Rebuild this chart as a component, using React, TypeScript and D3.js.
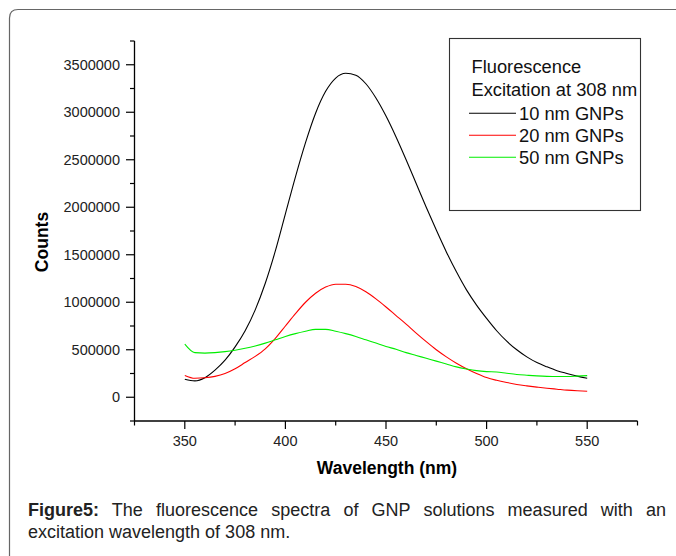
import React, { useLayoutEffect, useRef } from "react";
import * as d3 from "d3";

const wavelengths = [350, 355, 360, 365, 370, 375, 380, 385, 390, 395, 400, 405, 410, 415, 420, 425, 430, 435, 440, 445, 450, 455, 460, 465, 470, 475, 480, 485, 490, 495, 500, 505, 510, 515, 520, 525, 530, 535, 540, 545, 550];

const gnp10 = [190000, 172000, 205000, 285000, 390000, 530000, 700000, 920000, 1200000, 1540000, 1930000, 2320000, 2680000, 2990000, 3220000, 3360000, 3410000, 3390000, 3300000, 3150000, 2960000, 2740000, 2500000, 2250000, 2000000, 1760000, 1530000, 1320000, 1130000, 970000, 830000, 700000, 590000, 500000, 425000, 365000, 320000, 280000, 250000, 222000, 200000];

const gnp20 = [230000, 200000, 205000, 220000, 250000, 300000, 365000, 430000, 510000, 620000, 750000, 880000, 1000000, 1095000, 1160000, 1190000, 1190000, 1165000, 1110000, 1035000, 950000, 860000, 770000, 675000, 585000, 500000, 425000, 358000, 300000, 250000, 207000, 178000, 155000, 135000, 120000, 107000, 95000, 85000, 75000, 68000, 63000];

const gnp50 = [560000, 470000, 465000, 470000, 480000, 495000, 515000, 540000, 570000, 605000, 640000, 670000, 695000, 715000, 715000, 695000, 670000, 640000, 605000, 570000, 535000, 505000, 470000, 440000, 410000, 380000, 350000, 320000, 298000, 280000, 270000, 265000, 252000, 240000, 232000, 225000, 220000, 218000, 218000, 222000, 228000];

const seriesNames = ["10 nm GNPs", "20 nm GNPs", "50 nm GNPs"];
const seriesColors = ["#000000", "#ff0000", "#00ee00"];

const xMajor = [350, 400, 450, 500, 550];
const xMinor = [325, 375, 425, 475, 525, 575];
const yMajor = [0, 500000, 1000000, 1500000, 2000000, 2500000, 3000000, 3500000];
const yMinor = [-250000, 250000, 750000, 1250000, 1750000, 2250000, 2750000, 3250000, 3750000];

const legendTitle = ["Fluorescence", "Excitation at 308 nm"];
const captionBold = "Figure5:";
const captionRest = " The fluorescence spectra of GNP solutions measured with an";
const captionLine2 = "excitation wavelength of 308 nm.";

const FONT = "'Liberation Sans', Arial, Helvetica, sans-serif";

export default function App() {
  const x = d3.scaleLinear().domain([325, 575]).range([134.5, 637.5]);
  const y = d3.scaleLinear().domain([-250000, 3750000]).range([421, 41]);
  const line = d3
    .line<number>()
    .x((_, i) => x(wavelengths[i]))
    .y((d) => y(d))
    .curve(d3.curveMonotoneX);
  const series = [gnp10, gnp20, gnp50];

  const capRef = useRef<SVGTextElement>(null);
  useLayoutEffect(() => {
    const el = capRef.current;
    if (!el) return;
    el.setAttribute("word-spacing", "0");
    const natural = el.getComputedTextLength();
    const target = 666 - 28;
    const gaps = 9;
    el.setAttribute("word-spacing", String((target - natural) / gaps));
  }, []);

  const axisColor = "#000";
  const [x0, x1] = x.range();
  const [yb, yt] = y.range();

  return (
    <svg
      width={676}
      height={556}
      style={{ position: "absolute", left: 0, top: 0, background: "#fff" }}
      fontFamily={FONT}
    >
      {/* outer frame */}
      <path d="M 680 9.5 L 18 9.5 Q 9.5 9.5 9.5 18 L 9.5 560" fill="none" stroke="#666" strokeWidth={1.2} />

      {/* axes */}
      <line x1={x0} x2={x0} y1={yt} y2={yb} stroke={axisColor} strokeWidth={1.3} />
      <line x1={x0} x2={x1} y1={yb} y2={yb} stroke={axisColor} strokeWidth={1.3} />
      {yMajor.map((v) => (
        <g key={"ym" + v}>
          <line x1={x0 - 8.5} x2={x0} y1={y(v)} y2={y(v)} stroke={axisColor} strokeWidth={1.2} />
          <text x={120} y={y(v) + 5.2} textAnchor="end" fontSize={14.5} fill="#222">
            {v}
          </text>
        </g>
      ))}
      {yMinor.map((v) => (
        <line key={"yn" + v} x1={x0 - 4.5} x2={x0} y1={y(v)} y2={y(v)} stroke={axisColor} strokeWidth={1.2} />
      ))}
      {xMajor.map((v) => (
        <g key={"xm" + v}>
          <line x1={x(v)} x2={x(v)} y1={yb} y2={yb + 8} stroke={axisColor} strokeWidth={1.2} />
          <text x={x(v)} y={445.5} textAnchor="middle" fontSize={14.5} fill="#222">
            {v}
          </text>
        </g>
      ))}
      {xMinor.map((v) => (
        <line key={"xn" + v} x1={x(v)} x2={x(v)} y1={yb} y2={yb + 4.5} stroke={axisColor} strokeWidth={1.2} />
      ))}

      {/* axis titles */}
      <text x={387} y={474} textAnchor="middle" fontSize={17.5} fontWeight="bold" fill="#000">
        Wavelength (nm)
      </text>
      <text
        transform={`translate(48,242) rotate(-90)`}
        textAnchor="middle"
        fontSize={17.5}
        fontWeight="bold"
        fill="#000"
      >
        Counts
      </text>

      {/* curves */}
      {series.map((s, i) => (
        <path key={seriesNames[i]} d={line(s) || ""} fill="none" stroke={seriesColors[i]} strokeWidth={1.1} />
      ))}

      {/* legend */}
      <rect x={449.5} y={38.5} width={191} height={172} fill="#fff" stroke="#333" strokeWidth={1.1} />
      {legendTitle.map((t, i) => (
        <text key={t} x={471.5} y={73.3 + i * 22.4} fontSize={18.3} fill="#111">
          {t}
        </text>
      ))}
      {seriesNames.map((n, i) => (
        <g key={"lg" + n}>
          <line x1={469} x2={516} y1={113.3 + i * 22} y2={113.3 + i * 22} stroke={seriesColors[i]} strokeWidth={1.1} />
          <text x={519} y={119.6 + i * 22} fontSize={18.3} fill="#111">
            {n}
          </text>
        </g>
      ))}

      {/* caption */}
      <text ref={capRef} x={28} y={516} fontSize={18} fill="#222" style={{ whiteSpace: "pre" }}>
        <tspan fontWeight="bold">{captionBold}</tspan>
        <tspan>{captionRest}</tspan>
      </text>
      <text x={28} y={538} fontSize={18} fill="#222">
        {captionLine2}
      </text>
    </svg>
  );
}
